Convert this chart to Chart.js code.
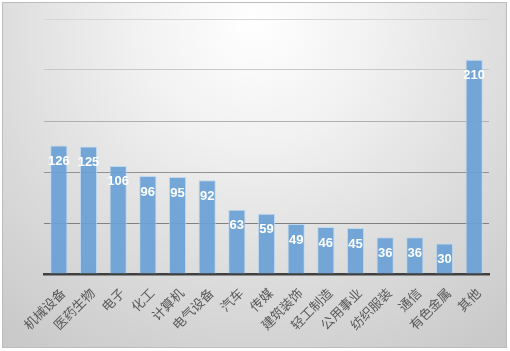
<!DOCTYPE html>
<html>
<head>
<meta charset="utf-8">
<script src="https://cdn.jsdelivr.net/npm/chart.js@4/dist/chart.umd.min.js"></script>
<style>
  html, body { margin: 0; padding: 0; background: #ffffff; }
  #frame {
    position: absolute; left: 2px; top: 2px; width: 503px; height: 344px;
    border: 1px solid #bdbdbd;
    background: radial-gradient(ellipse 80% 115% at 50% 6%, #ffffff 0%, #f1f1f1 30%, #dcdcdc 65%, #c9c9c9 100%);
  }
  #wrap { position: absolute; left: 0; top: 0; width: 510px; height: 351px; }
</style>
</head>
<body>
<div id="frame"></div>
<div id="wrap"><canvas id="c" width="510" height="351"></canvas></div>
<script>
const categories = ["机械设备","医药生物","电子","化工","计算机","电气设备","汽车","传媒","建筑装饰","轻工制造","公用事业","纺织服装","通信","有色金属","其他"];
const values = [126,125,106,96,95,92,63,59,49,46,45,36,36,30,210];
const yTicks = [0,50,100,150,200,250];

const gridColors = ['#404040','#808080','#929292','#b0b0b0','#c8c8c8','#d6d6d6'];

const valueLabels = {
  id: 'valueLabels',
  afterDatasetsDraw(chart) {
    const ctx = chart.ctx;
    const meta = chart.getDatasetMeta(0);
    ctx.save();
    ctx.fillStyle = '#ffffff';
    ctx.font = 'bold 13px "Liberation Sans", Arial, sans-serif';
    ctx.textAlign = 'center';
    ctx.textBaseline = 'middle';
    meta.data.forEach((bar, i) => {
      ctx.fillText(String(chart.data.datasets[0].data[i]), bar.x, bar.y + 16);
    });
    ctx.restore();
  }
};

new Chart(document.getElementById('c'), {
  type: 'bar',
  data: {
    labels: categories,
    datasets: [{
      data: values,
      backgroundColor: 'rgba(106,161,214,0.93)',
      borderColor: 'rgba(189,215,238,0.9)',
      borderWidth: 1,
      barPercentage: 0.58,
      categoryPercentage: 1.0
    }]
  },
  options: {
    responsive: false,
    animation: false,
    devicePixelRatio: 1,
    layout: { padding: { left: 44, right: 21, top: 19, bottom: 0 } },
    plugins: { legend: { display: false }, tooltip: { enabled: false } },
    scales: {
      x: {
        grid: { display: false, drawTicks: false },
        border: { display: true, color: '#404040', width: 2.5 },
        ticks: {
          autoSkip: false,
          minRotation: 45,
          maxRotation: 45,
          padding: 11,
          labelOffset: 4,
          color: '#595959',
          font: { family: '"Noto Sans CJK SC", sans-serif', size: 13 }
        },
        afterFit(scale) { scale.height = 77; }
      },
      y: {
        min: 0,
        max: 250,
        afterBuildTicks(scale) { scale.ticks = yTicks.map(v => ({ value: v })); },
        ticks: { display: false },
        border: { display: false },
        grid: {
          drawTicks: false,
          lineWidth: 1,
          color: (ctx) => gridColors[ctx.index] || '#d6d6d6'
        },
        afterFit(scale) { scale.width = 0; }
      }
    }
  },
  plugins: [valueLabels]
});
</script>
</body>
</html>
